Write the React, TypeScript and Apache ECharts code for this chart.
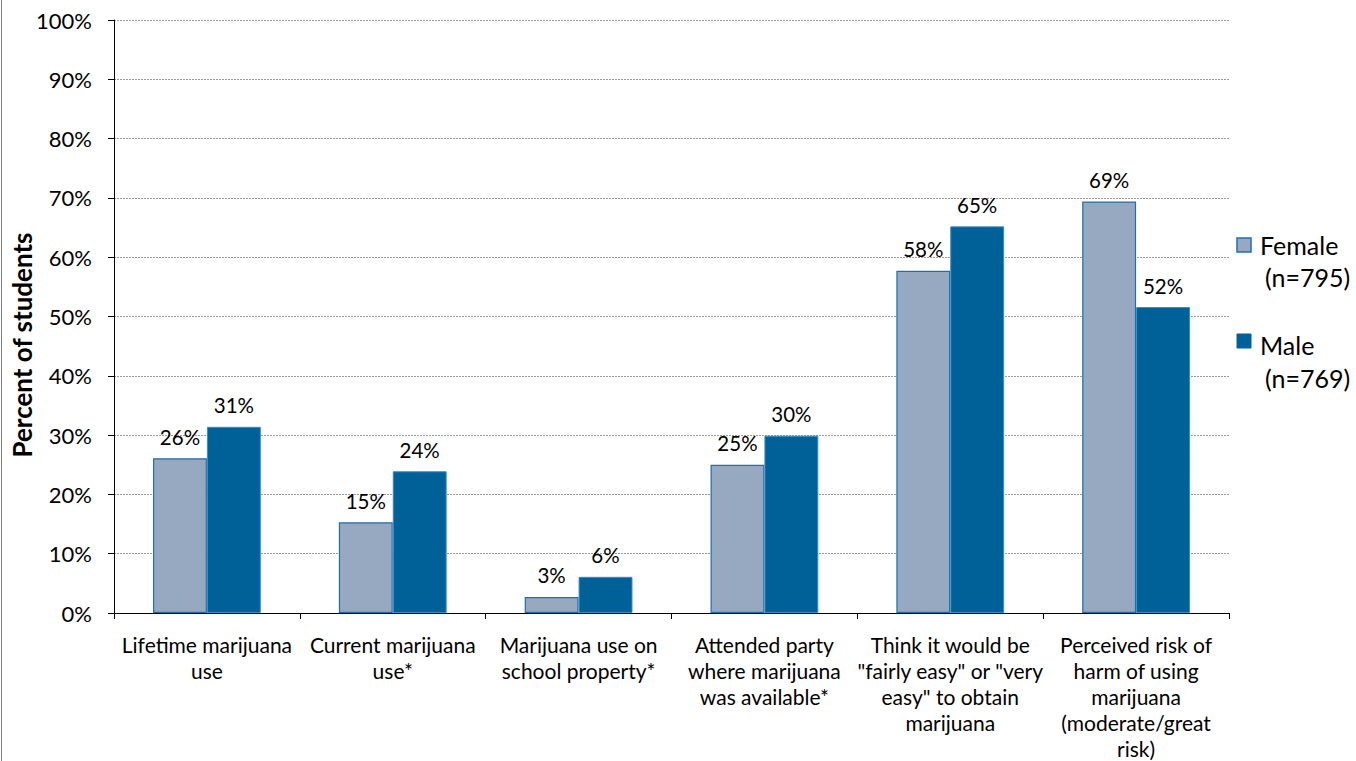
import React, { useEffect, useRef } from "react";
import * as echarts from "echarts";

const categories = [
  "Lifetime marijuana\nuse",
  "Current marijuana\nuse*",
  "Marijuana use on\nschool property*",
  "Attended party\nwhere marijuana\nwas available*",
  "Think it would be\n\"fairly easy\" or \"very\neasy\" to obtain\nmarijuana",
  "Perceived risk of\nharm of using\nmarijuana\n(moderate/great\nrisk)",
];
const female = [26.1, 15.3, 2.7, 25.0, 57.7, 69.4];
const male = [31.4, 23.9, 6.1, 29.9, 65.2, 51.6];
const yTicks = { min: 0, max: 100, interval: 10 };
const legendNames = [
  { name: "Female", n: "(n=795)" },
  { name: "Male", n: "(n=769)" },
];

const FONT = "Lato, 'Open Sans', sans-serif";
const FEMALE_COLOR = "#97A9C1";
const FEMALE_BORDER = "#1F6FAE";
const MALE_COLOR = "#006199";
const MALE_BORDER = "#3A8CC6";

export default function App() {
  const ref = useRef<HTMLDivElement>(null);
  useEffect(() => {
    if (!ref.current) return;
    const chart = echarts.init(ref.current, null, { renderer: "svg" });
    const label = {
      show: true,
      position: "top" as const,
      distance: 11,
      color: "#000",
      fontFamily: FONT,
      fontSize: 20.5,
      formatter: (p: any) => Math.round(p.value) + "%",
    };
    const legendText = (text: string, x: number, y: number) => ({
      type: "text",
      x,
      y,
      style: {
        text,
        fontFamily: FONT,
        fontSize: 25,
        fill: "#000",
        verticalAlign: "middle",
      },
    });
    chart.setOption({
      animation: false,
      backgroundColor: "#fff",
      grid: { left: 114, right: 127, top: 20, bottom: 147, containLabel: false },
      xAxis: {
        type: "category",
        data: categories,
        axisLine: { lineStyle: { color: "#000", width: 1 } },
        axisTick: { show: true, length: 6, lineStyle: { color: "#000" } },
        axisLabel: {
          interval: 0,
          color: "#000",
          fontFamily: FONT,
          fontSize: 21,
          lineHeight: 26,
          margin: 18,
          align: "center",
        },
      },
      yAxis: {
        type: "value",
        min: yTicks.min,
        max: yTicks.max,
        interval: yTicks.interval,
        axisLine: { show: true, lineStyle: { color: "#000", width: 1 } },
        axisTick: { show: true, length: 6, lineStyle: { color: "#000" } },
        axisLabel: {
          formatter: "{value}%",
          color: "#000",
          fontFamily: FONT,
          fontSize: 22,
          margin: 22,
        },
        splitLine: { show: true, lineStyle: { color: "#9a9a9a", type: [2, 1], width: 1 } },
      },
      series: [
        {
          name: "Female (n=795)",
          type: "bar",
          data: female,
          barGap: "0%",
          barCategoryGap: "42%",
          itemStyle: { color: FEMALE_COLOR, borderColor: FEMALE_BORDER, borderWidth: 1.2 },
          label,
        },
        {
          name: "Male (n=769)",
          type: "bar",
          data: male,
          barGap: "0%",
          barCategoryGap: "42%",
          itemStyle: { color: MALE_COLOR, borderColor: MALE_BORDER, borderWidth: 1 },
          label,
        },
      ],
      graphic: [
        {
          type: "line",
          shape: { x1: 1.5, y1: 0, x2: 1.5, y2: 761 },
          style: { stroke: "#808080", lineWidth: 1 },
        },
        {
          type: "text",
          x: 22,
          y: 345,
          rotation: Math.PI / 2,
          style: {
            text: "Percent of students",
            fontFamily: FONT,
            fontSize: 26,
            fontWeight: "bold",
            fill: "#000",
            align: "center",
            verticalAlign: "middle",
          },
        },
        {
          type: "rect",
          shape: { x: 1237, y: 238, width: 14, height: 14 },
          style: { fill: FEMALE_COLOR, stroke: FEMALE_BORDER, lineWidth: 1.5 },
        },
        legendText(legendNames[0].name, 1260, 245),
        legendText(legendNames[0].n, 1265, 277),
        {
          type: "rect",
          shape: { x: 1237, y: 334, width: 14, height: 14 },
          style: { fill: MALE_COLOR, stroke: MALE_COLOR, lineWidth: 1 },
        },
        legendText(legendNames[1].name, 1260, 345),
        legendText(legendNames[1].n, 1265, 378),
      ],
    });
    return () => chart.dispose();
  }, []);
  return (
    <div
      ref={ref}
      style={{ position: "absolute", left: 0, top: 0, width: 1356, height: 761 }}
    />
  );
}
